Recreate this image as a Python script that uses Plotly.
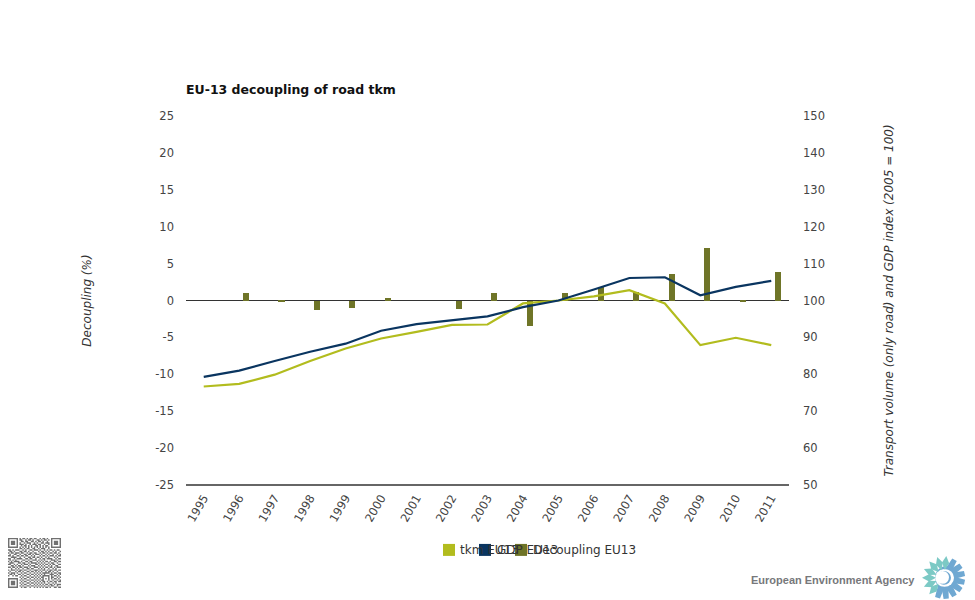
import math
import plotly.graph_objects as go

years = [str(y) for y in range(1995, 2012)]
tkm_eu13 = [76.7, 77.4, 79.9, 83.6, 87.0, 89.7, 91.5, 93.4, 93.5, 99.2, 100.0, 101.1, 102.8, 99.2, 87.9, 89.9, 87.9]
gdp_eu13 = [79.3, 81.0, 83.6, 86.1, 88.3, 91.8, 93.6, 94.6, 95.7, 98.2, 100.0, 103.0, 106.1, 106.3, 101.4, 103.7, 105.3]
decoupling_eu13 = [None, 1.0, -0.2, -1.3, -1.05, 0.35, 0.0, -1.2, 1.0, -3.5, 1.0, 1.85, 1.15, 3.55, 7.1, -0.2, 3.85]

left_ticks = list(range(-25, 30, 5))
left_labels = [str(v) for v in left_ticks]  # plain hyphen like the original
right_ticks = list(range(50, 160, 10))

legend_names = ["tkm EU13", "GDP EU13", "Decoupling EU13"]
GREEN = "#b2bc1e"
NAVY = "#0a3560"
OLIVE = "#6f7528"
FONT = "DejaVu Sans"

# rough copy of the qr code in the corner
qr_rows = [
    "1111111010110101101100101101001111111",
    "1000001011001011010011010110101000001",
    "1011101001101100110101101001001011101",
    "1011101010010111001010011011101011101",
    "1011101011101001011101100100101011101",
    "1000001001011010100110101011001000001",
    "1111111010101010101010101010101111111",
    "0000000011010110011001011100100000000",
    "1101011100101001101110100101011010110",
    "0110100011011010010001011010100101001",
    "1011011101100101101100101101011011010",
    "0100110010011011010111010010100100101",
    "1101001101101100101000101101011101011",
    "0011110010010011011011010010100010100",
    "1100101111001101100100101101111001011",
    "0101010000110010011101010100001110100",
    "1010111101001101100010101011010011011",
    "0111000110110010111101010100101100100",
    "1100101001011101000110101011010110011",
    "0011010110100010111001010100101001100",
    "1101101011011101001110101011011010111",
    "0010010100100110110001010100100101000",
    "1011101011011001001110101101011011011",
    "0100010110100110110101010010110100100",
    "1011101001011001001010101111101011011",
    "0110100110100110110101010100011100101",
    "1001011001011001001010101111101011010",
    "0000000010100110110101011000101100101",
    "1111111001011001001010101010101011010",
    "1000001010100110110101011000100100101",
    "1011101001011001001010101101011011011",
    "1011101010100110110101010100100101000",
    "1011101001011001001010101011011010111",
    "1000001010100110110101010100101100100",
    "1111111001011001001010101011010011011",
]


def px_x(x):
    return (x - 186) / 603


def px_y(y):
    return (485 - y) / 369.5


def qr_path():
    cell = 53 / 37
    parts = []
    for r, row in enumerate(qr_rows):
        for c, v in enumerate(row):
            if v == "1":
                x0, x1 = px_x(8 + c * cell), px_x(8 + (c + 1) * cell)
                y0, y1 = px_y(538 + r * cell), px_y(538 + (r + 1) * cell)
                parts.append(f"M{x0:.5f},{y0:.5f}L{x1:.5f},{y0:.5f}L{x1:.5f},{y1:.5f}L{x0:.5f},{y1:.5f}Z")
    return "".join(parts)


def petal(cx, cy, a, r0, r1, w):
    # one leaf of the logo, a in degrees
    t = math.radians(a)
    ux, uy = math.cos(t), -math.sin(t)
    vx, vy = -uy, ux
    base = (cx + ux * r0, cy + uy * r0)
    tip = (cx + ux * r1, cy + uy * r1)
    m = (r0 + r1) / 2
    s1 = (cx + ux * m + vx * w, cy + uy * m + vy * w)
    s2 = (cx + ux * m - vx * w, cy + uy * m - vy * w)
    pts = [base, s1, tip, s2]
    return "M" + "L".join(f"{px_x(x):.5f},{px_y(y):.5f}" for x, y in pts) + "Z"


def tooth(cx, cy, a, r0, r1, w):
    t = math.radians(a)
    ux, uy = math.cos(t), -math.sin(t)
    vx, vy = -uy, ux
    pts = [(cx + ux * r0 + vx * w * 1.3, cy + uy * r0 + vy * w * 1.3),
           (cx + ux * r1 + vx * w, cy + uy * r1 + vy * w),
           (cx + ux * r1 - vx * w, cy + uy * r1 - vy * w),
           (cx + ux * r0 - vx * w * 1.3, cy + uy * r0 - vy * w * 1.3)]
    return "M" + "L".join(f"{px_x(x):.5f},{px_y(y):.5f}" for x, y in pts) + "Z"


fig = go.Figure()
fig.add_trace(go.Bar(x=years, y=decoupling_eu13, name=legend_names[2], marker=dict(color=OLIVE, line_width=0),
                     width=0.17, offset=0.107, yaxis="y"))
fig.add_trace(go.Scatter(x=years, y=tkm_eu13, name=legend_names[0], mode="lines",
                         line=dict(color=GREEN, width=2.2), yaxis="y2"))
fig.add_trace(go.Scatter(x=years, y=gdp_eu13, name=legend_names[1], mode="lines",
                         line=dict(color=NAVY, width=2.2), yaxis="y2"))

shapes = []
for x0, col in zip([443, 479, 515], [GREEN, NAVY, OLIVE]):
    shapes.append(dict(type="rect", xref="paper", yref="paper", x0=px_x(x0), x1=px_x(455 + x0 - 443),
                       y0=px_y(544), y1=px_y(556), fillcolor=col, line_width=0))
shapes.append(dict(type="path", xref="paper", yref="paper", path=qr_path(), fillcolor="#707070", line_width=0))

# logo
cx, cy = 944, 578
teal_angles = [84, 108, 132, 156, 180, 204, 228]
blue_angles = [60, 36, 12, -12, -36, -60, -84, -108]
for a in blue_angles:
    shapes.append(dict(type="path", xref="paper", yref="paper", path=tooth(cx, cy, a, 9, 21, 2.6),
                       fillcolor="#6fa8d2", line_width=0))
shapes.append(dict(type="circle", xref="paper", yref="paper", x0=px_x(cx - 9), x1=px_x(cx + 14),
                   y0=px_y(cy - 12), y1=px_y(cy + 12), fillcolor="#6fa8d2", line_width=0))
shapes.append(dict(type="circle", xref="paper", yref="paper", x0=px_x(cx - 9), x1=px_x(cx + 10),
                   y0=px_y(cy - 9), y1=px_y(cy + 9), fillcolor="white", line_width=0))
shapes.append(dict(type="circle", xref="paper", yref="paper", x0=px_x(cx - 7), x1=px_x(cx + 7),
                   y0=px_y(cy - 7), y1=px_y(cy + 7), fillcolor="#6fa8d2", line_width=0))
shapes.append(dict(type="circle", xref="paper", yref="paper", x0=px_x(cx - 8), x1=px_x(cx + 5),
                   y0=px_y(cy - 7), y1=px_y(cy + 6), fillcolor="white", line_width=0))
for a in teal_angles:
    shapes.append(dict(type="path", xref="paper", yref="paper", path=petal(cx, cy, a, 8, 22, 3.6),
                       fillcolor="#7cc9c5", line_width=0))
shapes.append(dict(type="line", xref="paper", yref="paper", x0=0, x1=1, y0=0, y1=0, line=dict(color="#333333", width=1.4)))

annotations = []
for x0, name in zip([457.5, 495, 531], legend_names):
    annotations.append(dict(text=name, xref="paper", yref="paper", x=px_x(x0), y=px_y(550), xanchor="left",
                            yanchor="middle", showarrow=False, font=dict(family=FONT, size=12, color="#333333")))
annotations.append(dict(text="<b>European Environment Agency</b>", xref="paper", yref="paper", x=px_x(917), y=px_y(580),
                        xanchor="right", yanchor="middle", showarrow=False,
                        font=dict(family="Liberation Sans", size=11, color="#77787b")))

fig.update_layout(
    width=975, height=600, autosize=False,
    margin=dict(l=186, r=186, t=115.5, b=115),
    paper_bgcolor="white", plot_bgcolor="white",
    showlegend=False,
    bargap=0,
    font=dict(family=FONT, size=11.5, color="#444444"),
    title=dict(text="<b>EU-13 decoupling of road tkm</b>", xref="paper", x=0, xanchor="left",
               yref="container", y=1 - 90 / 600, yanchor="middle", font=dict(family=FONT, size=12.5, color="#111111")),
    xaxis=dict(type="category", categoryorder="array", categoryarray=years, tickangle=-60, showgrid=False,
               ticks="", showline=False, zeroline=False, tickfont=dict(size=11.5, color="#444444"), ticklabelstandoff=3),
    yaxis=dict(range=[-25, 25], tickvals=left_ticks, ticktext=left_labels, showgrid=False, ticks="", showline=False,
               zeroline=True, zerolinecolor="#333333", zerolinewidth=1.4, ticklabelstandoff=11,
               title=dict(text="Decoupling (%)", font=dict(size=12, style="italic", color="#333333"), standoff=61)),
    yaxis2=dict(range=[50, 150], tickvals=right_ticks, overlaying="y", side="right", showgrid=False, ticks="",
                showline=False, zeroline=False, ticklabelstandoff=13,
                title=dict(text="Transport volume (only road) and GDP index (2005 = 100)",
                           font=dict(size=12, style="italic", color="#333333"), standoff=60)),
    shapes=shapes,
    annotations=annotations,
)

fig.write_html("out.html", config=dict(displayModeBar=False), post_script="document.body.style.margin='0';")
